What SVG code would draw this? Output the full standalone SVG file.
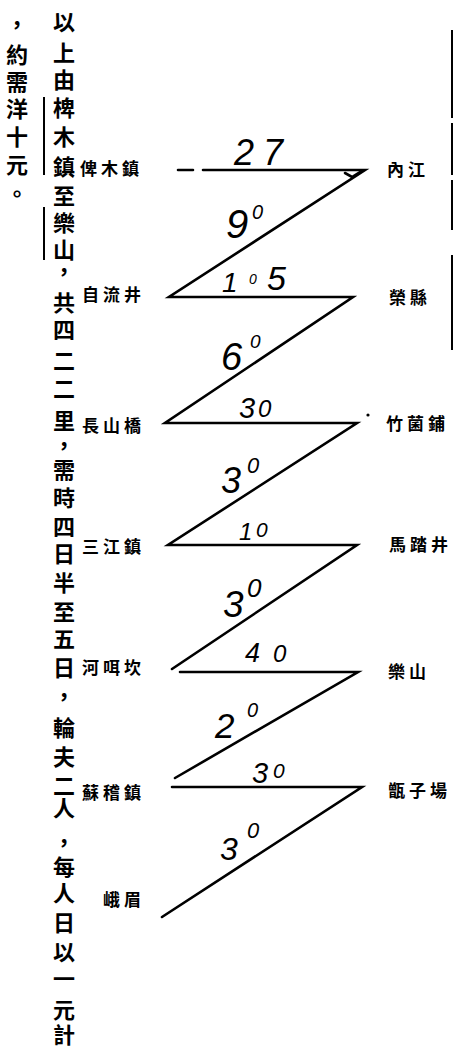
<svg xmlns="http://www.w3.org/2000/svg" width="455" height="1047" viewBox="0 0 455 1047">
<style>
.col{font-family:"Noto Sans CJK TC","Noto Sans CJK SC",sans-serif;font-size:22px;font-weight:700;fill:#000;writing-mode:vertical-rl}
.lbl{font-family:"Noto Sans CJK TC","Noto Sans CJK SC",sans-serif;font-size:17px;font-weight:700;fill:#000;letter-spacing:4px}
.num{font-family:"Liberation Sans",Arial,sans-serif;font-style:italic;fill:#000}
.ln{fill:none;stroke:#000;stroke-width:2.6;stroke-linecap:round;stroke-linejoin:miter}
.bar{fill:none;stroke:#000;stroke-width:2}
</style>
<rect width="455" height="1047" fill="#fff"/>

<g id="note">
<text class="col" x="64" y="11 42 69 97 126 156 185 212 239 261 292 319 350 378 410 435 459 487 516 543 572 601 628 657 686 717 746 775 797 832 856 882 912 941 968 999 1024">以上由椑木鎮至樂山，共四二二里，需時四日半至五日，輪夫二人，每人日以一元計</text>
<text class="col" x="17" y="14 44 71 98 126 154 183">，約需洋十元。</text>
<path class="bar" d="M44 97V175M44 207V260"/>
<path class="bar" d="M452 30V118M452 123V175M452 180V230M452 255V350"/>
</g>

<g id="connectors">
<path class="ln" d="M178 170H193M203 170H365L169 297H353L165 423H357L168 545H357L172 669M180 672H358L175 778M172 787H362L162 917"/>
<path class="ln" d="M345 173L352 177L360 172" stroke-width="1.5"/>
<circle cx="368" cy="415" r="1.6" fill="#000"/>
<g class="num">
<text><tspan x="234" y="165" font-size="36">2</tspan><tspan x="263" y="165" font-size="36">7</tspan></text>
<text><tspan x="226" y="238" font-size="40">9</tspan><tspan x="252" y="219" font-size="20">0</tspan></text>
<text><tspan x="222" y="292" font-size="28">1</tspan><tspan x="249" y="284" font-size="14">0</tspan><tspan x="267" y="290" font-size="34">5</tspan></text>
<text><tspan x="221" y="370" font-size="38">6</tspan><tspan x="250" y="348" font-size="19">0</tspan></text>
<text><tspan x="239" y="418" font-size="29">3</tspan><tspan x="258" y="417" font-size="24">0</tspan></text>
<text><tspan x="221" y="493" font-size="36">3</tspan><tspan x="247" y="473" font-size="22">0</tspan></text>
<text><tspan x="239" y="540" font-size="24">1</tspan><tspan x="256" y="537" font-size="21">0</tspan></text>
<text><tspan x="223" y="617" font-size="37">3</tspan><tspan x="247" y="597" font-size="26">0</tspan></text>
<text><tspan x="245" y="662" font-size="27">4</tspan><tspan x="273" y="662" font-size="24">0</tspan></text>
<text><tspan x="215" y="738" font-size="35">2</tspan><tspan x="247" y="717" font-size="20">0</tspan></text>
<text><tspan x="252" y="783" font-size="29">3</tspan><tspan x="273" y="778" font-size="21">0</tspan></text>
<text><tspan x="220" y="860" font-size="32">3</tspan><tspan x="247" y="838" font-size="22">0</tspan></text>
</g>
</g>

<g id="n-pimuzhen"><text class="lbl" x="80" y="175">俾木鎮</text></g>
<g id="n-ziliujing"><text class="lbl" x="82" y="301">自流井</text></g>
<g id="n-changshanqiao"><text class="lbl" x="82" y="432">長山橋</text></g>
<g id="n-sanjiangzhen"><text class="lbl" x="82" y="553">三江鎮</text></g>
<g id="n-heerkan"><text class="lbl" x="82" y="674">河咡坎</text></g>
<g id="n-sujizhen"><text class="lbl" x="82" y="799">蘇稽鎮</text></g>
<g id="n-emei"><text class="lbl" x="103" y="906">峨眉</text></g>
<g id="n-neijiang"><text class="lbl" x="387" y="176">內江</text></g>
<g id="n-rongxian"><text class="lbl" x="389" y="304">榮縣</text></g>
<g id="n-zhujunpu"><text class="lbl" x="386" y="430">竹菌鋪</text></g>
<g id="n-matajing"><text class="lbl" x="389" y="551">馬踏井</text></g>
<g id="n-leshan"><text class="lbl" x="388" y="678">樂山</text></g>
<g id="n-zengzichang"><text class="lbl" x="388" y="797">甑子場</text></g>
</svg>
